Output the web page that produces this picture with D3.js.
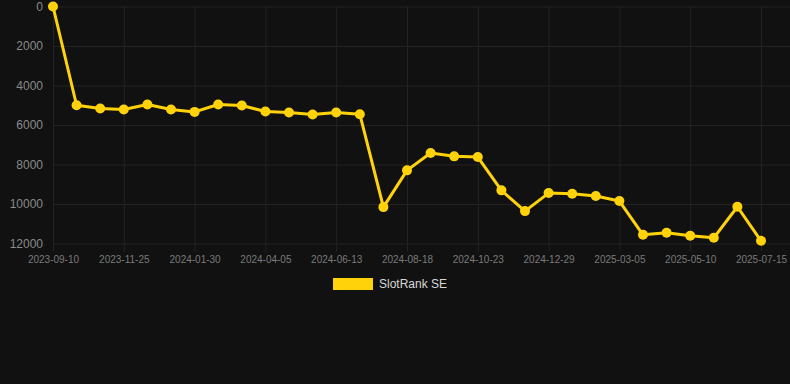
<!DOCTYPE html>
<html>
<head>
<meta charset="utf-8">
<script src="https://cdn.jsdelivr.net/npm/d3@7"></script>
<style>
  html, body { margin: 0; padding: 0; background: #111111; }
  svg { display: block; }
</style>
</head>
<body>
<svg id="chart" width="790" height="384"></svg>
<script>
const dates = [
  "2023-09-10","2023-10-05","2023-10-30","2023-11-25","2023-12-17","2024-01-08",
  "2024-01-30","2024-02-21","2024-03-14","2024-04-05","2024-04-28","2024-05-21",
  "2024-06-13","2024-07-05","2024-07-27","2024-08-18","2024-09-09","2024-10-01",
  "2024-10-23","2024-11-14","2024-12-07","2024-12-29","2025-01-20","2025-02-11",
  "2025-03-05","2025-03-27","2025-04-18","2025-05-10","2025-06-01","2025-06-23",
  "2025-07-15"
];
const rankSE = [
  0, 5000, 5165, 5216, 4962, 5216,
  5337, 4962, 5013, 5317, 5368, 5470,
  5368, 5454, 10157, 8296, 7418, 7587,
  7621, 9310, 10360, 9447, 9480, 9598,
  9852, 11560, 11458, 11610, 11712, 10140,
  11864
];
const yTicks = [0, 2000, 4000, 6000, 8000, 10000, 12000];
const xTickLabels = dates.filter((d, i) => i % 3 === 0);
const seriesName = "SlotRank SE";

(function () {
const svg = d3.select("#chart");
const W = 790;
const pLeft = 53, pRight = 761, pTop = 6.5, pBottom = 243.5;
const lineColor = "#FFD20A";
const gridColor = "#232323";
const font = "'Liberation Sans', Arial, Helvetica, sans-serif";

const x = d3.scalePoint().domain(dates).range([pLeft, pRight]);
const y = d3.scaleLinear().domain([0, 12000]).range([pTop, pBottom]);

// horizontal grid
const yAxis = d3.axisLeft(y).tickValues(yTicks).tickSize(-(W - pLeft)).tickPadding(10).tickFormat(d => String(d));
const gy = svg.append("g").attr("transform", `translate(${pLeft},0)`).call(yAxis);
gy.select(".domain").remove();
gy.selectAll(".tick line").attr("stroke", gridColor).attr("stroke-width", 1);
gy.selectAll(".tick text").attr("fill", "#8a8a8a").attr("font-size", "12px").attr("font-family", font);

// vertical grid (every 3rd category)
const xAxis = d3.axisBottom(x).tickValues(xTickLabels).tickSize(-(pBottom - pTop)).tickPadding(10);
const gx = svg.append("g").attr("transform", `translate(0,${pBottom})`).call(xAxis);
gx.select(".domain").remove();
gx.selectAll(".tick line").attr("stroke", gridColor).attr("stroke-width", 1).attr("y2", -(pBottom - pTop)).attr("y1", 8);
gx.selectAll(".tick text").attr("fill", "#7a7a7a").attr("font-size", "10px").attr("font-family", font).attr("y", 12).attr("dy", "0.71em");

// line
const line = d3.line().x((d, i) => x(dates[i])).y(d => y(d));
svg.append("path").datum(rankSE)
  .attr("d", line)
  .attr("fill", "none")
  .attr("stroke", lineColor)
  .attr("stroke-width", 3)
  .attr("stroke-linejoin", "round");

svg.append("g").selectAll("circle").data(rankSE).join("circle")
  .attr("cx", (d, i) => x(dates[i]))
  .attr("cy", d => y(d))
  .attr("r", 5)
  .attr("fill", lineColor);

// legend
const lg = svg.append("g").attr("transform", "translate(333,278)");
lg.append("rect").attr("width", 40).attr("height", 12).attr("fill", lineColor);
lg.append("text").attr("x", 46).attr("y", 6).attr("dy", "0.35em")
  .attr("fill", "#d8d8d8").attr("font-size", "12px").attr("font-family", font)
  .text(seriesName);
})();
</script>
</body>
</html>
